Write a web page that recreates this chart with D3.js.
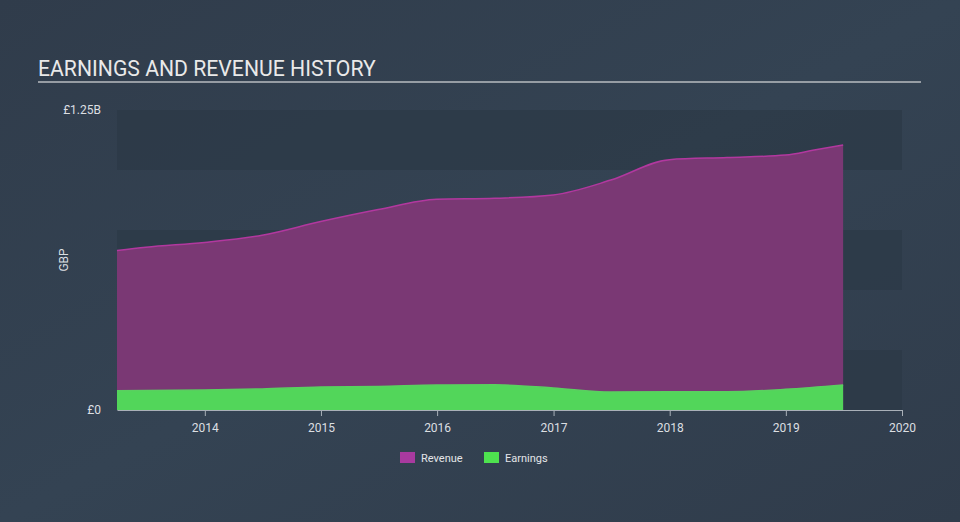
<!DOCTYPE html>
<html><head><meta charset="utf-8">
<script src="https://cdn.jsdelivr.net/npm/d3@7"></script>
<style>
html,body{margin:0;padding:0;background:#333f4f;}
svg{display:block;font-family:Roboto, "Open Sans", sans-serif;}
</style></head>
<body>
<svg id="chart" width="960" height="522"></svg>
<script>
const revenueDates = ["2013-03-31","2013-06-30","2013-12-31","2014-06-30","2014-12-31","2015-06-30","2015-12-31","2016-06-30","2016-12-31","2017-06-30","2017-12-31","2018-06-30","2018-12-31","2019-03-31","2019-06-30"];
const revenueValues = [664,678,698,728,785,835,878,882,896,958,1043,1052,1062,1083,1104];
const earningsDates = ["2013-03-31","2013-12-31","2014-06-30","2014-12-31","2015-06-30","2015-12-31","2016-06-30","2016-07-31","2016-12-31","2017-06-30","2017-12-31","2018-06-30","2018-12-31","2019-06-30"];
const earningsValues = [80,83,88,96,98,104,105,104,92,75,76,76,86,104];
const yTickValues = [0,1250];
const yTickLabels = ["£0","£1.25B"];
const xTickYears = [2014,2015,2016,2017,2018,2019,2020];
const seriesNames = ["Revenue","Earnings"];
const seriesFill = ["#7a3874","#52d65a"];
const seriesStroke = ["#b2389f","#5ad060"];
const legendColors = ["#a83a9f","#4ee24f"];

(function(){
const svg = d3.select("#chart");
const W = 960, H = 522;
const pLeft = 117, pRight = 902, pTop = 110, pBottom = 410;

const defs = svg.append("defs");
const g = defs.append("linearGradient").attr("id","bg").attr("x1","0").attr("y1","0").attr("x2","1").attr("y2","1");
g.append("stop").attr("offset","0%").attr("stop-color","#303c4b");
g.append("stop").attr("offset","50%").attr("stop-color","#344353");
g.append("stop").attr("offset","100%").attr("stop-color","#303c4b");
svg.append("rect").attr("width",W).attr("height",H).attr("fill","url(#bg)");

const parse = d3.timeParse("%Y-%m-%d");
const x = d3.scaleTime().domain([parse("2013-03-31"), parse("2020-01-01")]).range([pLeft, pRight]);
const y = d3.scaleLinear().domain([0,1250]).range([pBottom, pTop]);

const bandEdges = d3.range(0, 1250, 250);
svg.append("g").selectAll("rect").data(bandEdges.filter((d,i)=>i%2===0)).join("rect")
  .attr("x", pLeft).attr("width", pRight-pLeft)
  .attr("y", d=>y(d+250)).attr("height", d=>y(d)-y(d+250))
  .attr("fill","#2c3947").attr("opacity",0.75);

svg.append("text").attr("x",38).attr("y",76).attr("fill","#e9e9e9")
  .attr("font-size",21.2).text("EARNINGS AND REVENUE HISTORY");
svg.append("line").attr("x1",38).attr("x2",921).attr("y1",82).attr("y2",82)
  .attr("stroke","#b9bcc0").attr("stroke-width",1.5);

const rev = revenueDates.map((d,i)=>({date:parse(d), v:revenueValues[i]}));
const earn = earningsDates.map((d,i)=>({date:parse(d), v:earningsValues[i]}));

const area = d3.area().x(d=>x(d.date)).y0(y(0)).y1(d=>y(d.v)).curve(d3.curveMonotoneX);
const line = d3.line().x(d=>x(d.date)).y(d=>y(d.v)).curve(d3.curveMonotoneX);

svg.append("path").datum(rev).attr("d",area).attr("fill",seriesFill[0]);
svg.append("path").datum(rev).attr("d",line).attr("fill","none").attr("stroke",seriesStroke[0]).attr("stroke-width",1.5);
svg.append("path").datum(earn).attr("d",area).attr("fill",seriesFill[1]);
svg.append("path").datum(earn).attr("d",line).attr("fill","none").attr("stroke",seriesStroke[1]).attr("stroke-width",1.5);

const xAxis = d3.axisBottom(x).tickValues(xTickYears.map(yr=>new Date(yr,0,1)))
  .tickFormat(d3.timeFormat("%Y")).tickSize(6).tickSizeOuter(0);
const xg = svg.append("g").attr("transform",`translate(0,${pBottom})`).call(xAxis);
xg.select(".domain").attr("stroke","#a9b0b8");
xg.selectAll(".tick line").attr("stroke","#a9b0b8");
xg.selectAll(".tick text").attr("fill","#dcdfe2").attr("font-size",12).attr("dy","1.05em")
  .attr("font-family","Roboto, sans-serif");

const yAxis = d3.axisLeft(y).tickValues(yTickValues).tickFormat((d,i)=>yTickLabels[i]).tickSize(0).tickPadding(16);
const yg = svg.append("g").attr("transform",`translate(${pLeft},0)`).call(yAxis);
yg.select(".domain").remove();
yg.selectAll(".tick text").attr("fill","#dcdfe2").attr("font-size",12).attr("font-family","Roboto, sans-serif");

svg.append("text").attr("transform","translate(68,260) rotate(-90)").attr("text-anchor","middle")
  .attr("fill","#dcdfe2").attr("font-size",12).text("GBP");

const leg = svg.append("g");
const legX = [400, 484];
seriesNames.forEach((n,i)=>{
  leg.append("rect").attr("x",legX[i]).attr("y",452).attr("width",15).attr("height",11).attr("fill",legendColors[i]);
  leg.append("text").attr("x",legX[i]+21).attr("y",462).attr("fill","#e3e5e8").attr("font-size",11)
    .attr("font-family","Roboto, sans-serif").text(n);
});
})();
</script>
</body></html>
